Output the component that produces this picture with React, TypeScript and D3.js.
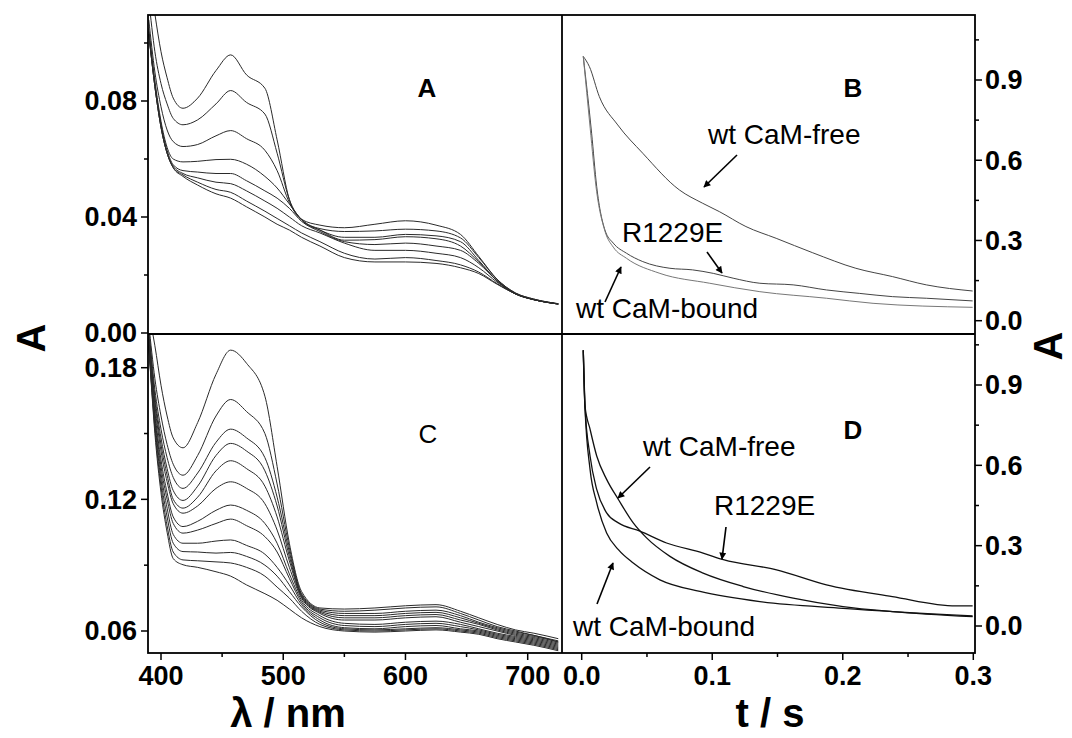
import React from 'react';
import * as d3 from 'd3';

const W = 1072;
const H = 738;
const FONT = '"Liberation Sans", Arial, Helvetica, sans-serif';

// ---------- data ----------
const wavelengths = [390, 395, 400, 405, 410, 418, 430, 445, 457, 470, 485, 495, 505, 515, 530, 550, 575, 600, 625, 645, 660, 675, 690, 705, 725];

const spectraA = [
  [0.125, 0.110, 0.097, 0.088, 0.081, 0.0775, 0.081, 0.0905, 0.0959, 0.089, 0.0844, 0.0666, 0.046, 0.0392, 0.0372, 0.0363, 0.0375, 0.0387, 0.0372, 0.034, 0.0264, 0.0185, 0.0138, 0.0117, 0.0101],
  [0.115, 0.097, 0.086, 0.079, 0.074, 0.0718, 0.0735, 0.079, 0.0836, 0.0795, 0.0755, 0.062, 0.046, 0.0392, 0.036, 0.035, 0.0352, 0.0358, 0.0352, 0.0328, 0.026, 0.0185, 0.0138, 0.0117, 0.0101],
  [0.108, 0.090, 0.078, 0.070, 0.066, 0.0643, 0.065, 0.068, 0.0698, 0.067, 0.063, 0.056, 0.045, 0.039, 0.0355, 0.033, 0.033, 0.034, 0.0335, 0.0315, 0.025, 0.018, 0.0135, 0.0115, 0.010],
  [0.105, 0.087, 0.073, 0.064, 0.060, 0.059, 0.0592, 0.0598, 0.0599, 0.0582, 0.054, 0.050, 0.0445, 0.039, 0.0355, 0.032, 0.0322, 0.0332, 0.0325, 0.030, 0.0245, 0.018, 0.0135, 0.0115, 0.010],
  [0.104, 0.086, 0.072, 0.063, 0.058, 0.056, 0.0555, 0.055, 0.055, 0.0525, 0.049, 0.0465, 0.043, 0.0385, 0.035, 0.0315, 0.0305, 0.031, 0.030, 0.0285, 0.024, 0.018, 0.0135, 0.0115, 0.010],
  [0.103, 0.085, 0.071, 0.062, 0.0575, 0.055, 0.0535, 0.052, 0.0515, 0.049, 0.0455, 0.043, 0.040, 0.037, 0.0345, 0.031, 0.0285, 0.0285, 0.0275, 0.026, 0.0225, 0.0175, 0.0135, 0.0115, 0.010],
  [0.103, 0.085, 0.071, 0.062, 0.057, 0.0545, 0.052, 0.0495, 0.0485, 0.0455, 0.042, 0.0395, 0.037, 0.0345, 0.0315, 0.0275, 0.0255, 0.026, 0.025, 0.0235, 0.021, 0.017, 0.0135, 0.0115, 0.010],
  [0.103, 0.085, 0.071, 0.062, 0.057, 0.054, 0.051, 0.048, 0.0465, 0.0435, 0.040, 0.0375, 0.0355, 0.033, 0.030, 0.026, 0.0245, 0.0245, 0.024, 0.0225, 0.0205, 0.0168, 0.0135, 0.0115, 0.010],
];

const spectraC = [
  [0.205, 0.19, 0.172, 0.158, 0.148, 0.1435, 0.155, 0.177, 0.188, 0.182, 0.167, 0.135, 0.100, 0.078, 0.0705, 0.070, 0.0705, 0.0715, 0.072, 0.069, 0.066, 0.063, 0.0605, 0.059, 0.0565],
  [0.2, 0.175, 0.158, 0.145, 0.136, 0.131, 0.140, 0.158, 0.1655, 0.160, 0.150, 0.127, 0.098, 0.077, 0.070, 0.069, 0.0695, 0.0705, 0.071, 0.068, 0.065, 0.062, 0.060, 0.058, 0.0555],
  [0.198, 0.17, 0.152, 0.139, 0.13, 0.125, 0.132, 0.146, 0.152, 0.148, 0.139, 0.121, 0.096, 0.0765, 0.0695, 0.068, 0.068, 0.069, 0.0695, 0.067, 0.064, 0.0615, 0.0595, 0.058, 0.055],
  [0.196, 0.167, 0.148, 0.134, 0.124, 0.1195, 0.126, 0.140, 0.1455, 0.142, 0.133, 0.117, 0.094, 0.076, 0.069, 0.067, 0.067, 0.068, 0.0685, 0.066, 0.0635, 0.061, 0.059, 0.0575, 0.055],
  [0.195, 0.165, 0.145, 0.131, 0.12, 0.116, 0.121, 0.133, 0.1376, 0.134, 0.126, 0.112, 0.092, 0.0755, 0.0685, 0.066, 0.066, 0.067, 0.0675, 0.065, 0.063, 0.0605, 0.0585, 0.057, 0.0545],
  [0.194, 0.163, 0.142, 0.128, 0.118, 0.1137, 0.117, 0.125, 0.128, 0.125, 0.118, 0.106, 0.089, 0.075, 0.068, 0.065, 0.065, 0.066, 0.0665, 0.064, 0.062, 0.060, 0.058, 0.0565, 0.054],
  [0.193, 0.16, 0.138, 0.123, 0.112, 0.1076, 0.110, 0.115, 0.1174, 0.115, 0.109, 0.100, 0.086, 0.074, 0.067, 0.0635, 0.063, 0.064, 0.0645, 0.063, 0.061, 0.059, 0.0575, 0.056, 0.0535],
  [0.192, 0.158, 0.135, 0.12, 0.109, 0.1046, 0.106, 0.109, 0.111, 0.108, 0.103, 0.096, 0.084, 0.073, 0.066, 0.0625, 0.062, 0.063, 0.0635, 0.062, 0.0605, 0.0585, 0.057, 0.0555, 0.053],
  [0.191, 0.156, 0.132, 0.116, 0.104, 0.100, 0.100, 0.101, 0.1015, 0.099, 0.095, 0.089, 0.081, 0.072, 0.065, 0.0615, 0.061, 0.062, 0.0625, 0.061, 0.060, 0.058, 0.0565, 0.055, 0.0525],
  [0.19, 0.154, 0.129, 0.112, 0.1, 0.0962, 0.096, 0.0955, 0.0958, 0.094, 0.090, 0.085, 0.078, 0.071, 0.064, 0.061, 0.0605, 0.061, 0.0615, 0.0605, 0.0595, 0.0575, 0.056, 0.0545, 0.052],
  [0.19, 0.152, 0.126, 0.108, 0.096, 0.0924, 0.092, 0.0915, 0.091, 0.089, 0.085, 0.080, 0.075, 0.069, 0.063, 0.0605, 0.060, 0.0605, 0.061, 0.060, 0.059, 0.057, 0.0555, 0.054, 0.0515],
  [0.19, 0.15, 0.123, 0.105, 0.093, 0.0902, 0.089, 0.087, 0.085, 0.081, 0.077, 0.074, 0.070, 0.066, 0.062, 0.060, 0.0595, 0.060, 0.0605, 0.0595, 0.0585, 0.0565, 0.055, 0.0535, 0.051],
];

// Panel B kinetics
const tBFree = [0.0012, 0.0059, 0.0135, 0.0276, 0.0468, 0.0748, 0.0927, 0.1054, 0.1258, 0.149, 0.177, 0.210, 0.238, 0.264, 0.2995];
const aBFree = [0.988, 0.950, 0.838, 0.732, 0.626, 0.489, 0.439, 0.408, 0.352, 0.308, 0.254, 0.196, 0.165, 0.134, 0.111];
const tBMut = [0.0012, 0.0076, 0.0115, 0.0178, 0.0242, 0.0344, 0.0468, 0.0676, 0.0850, 0.1008, 0.116, 0.1365, 0.162, 0.1875, 0.213, 0.238, 0.264, 0.2995];
const aBMut = [0.988, 0.701, 0.501, 0.339, 0.290, 0.252, 0.221, 0.196, 0.190, 0.177, 0.159, 0.140, 0.134, 0.115, 0.102, 0.090, 0.084, 0.074];
const tBBound = [0.0012, 0.0065, 0.0110, 0.0178, 0.0242, 0.0344, 0.0599, 0.0981, 0.1365, 0.1875, 0.2232, 0.2995];
const aBBound = [0.988, 0.720, 0.500, 0.335, 0.275, 0.233, 0.177, 0.140, 0.1085, 0.084, 0.065, 0.050];

// Panel D kinetics
const tDFree = [0.0012, 0.0025, 0.0064, 0.0115, 0.0191, 0.0281, 0.0395, 0.0497, 0.0676, 0.093, 0.1237, 0.162, 0.2002, 0.238, 0.2995];
const aDFree = [1.03, 0.822, 0.735, 0.635, 0.5475, 0.4725, 0.385, 0.329, 0.260, 0.1975, 0.1475, 0.104, 0.0725, 0.054, 0.035];
const tDMut = [0.0012, 0.0025, 0.0064, 0.0115, 0.0191, 0.0281, 0.0446, 0.065, 0.093, 0.1085, 0.1493, 0.1875, 0.238, 0.2868, 0.2995];
const aDMut = [1.03, 0.82, 0.635, 0.51, 0.4225, 0.385, 0.354, 0.31, 0.2725, 0.2475, 0.21, 0.154, 0.11, 0.075, 0.075];
const tDBound = [0.0012, 0.0025, 0.0064, 0.0115, 0.0191, 0.0281, 0.0395, 0.0599, 0.0906, 0.1365, 0.2002, 0.2995];
const aDBound = [1.03, 0.82, 0.585, 0.46, 0.3475, 0.285, 0.235, 0.1725, 0.129, 0.091, 0.066, 0.0375];

const ticksWl = [400, 500, 600, 700];
const minorWl = [450, 550, 650];
const ticksT = [0, 0.1, 0.2, 0.3];
const minorT = [0.05, 0.15, 0.25];
const ticksA = [0, 0.04, 0.08];
const minorA = [0.02, 0.06, 0.10];
const ticksC = [0.06, 0.12, 0.18];
const minorC = [0.09, 0.15];
const ticksR = [0, 0.3, 0.6, 0.9];
const minorR = [0.15, 0.45, 0.75, 1.05];

// ---------- layout ----------
const L = 148, M = 562, R = 975, T = 15, MID = 334, BOT = 653;

const xWl = d3.scaleLinear().domain([400, 700]).range([161, 527.7]);
const yA = d3.scaleLinear().domain([0, 0.08]).range([333, 101]);
const yC = d3.scaleLinear().domain([0.06, 0.18]).range([631, 367.7]);
const xT = d3.scaleLinear().domain([0, 0.3]).range([581.7, 973.3]);
const yB = d3.scaleLinear().domain([0, 0.9]).range([320.7, 80]);
const yD = d3.scaleLinear().domain([0, 0.9]).range([626, 385]);

const lineColor = '#2a2a2a';

function specPath(vals: number[], ys: d3.ScaleLinear<number, number>) {
  const line = d3.line<number>()
    .x((_, i) => xWl(wavelengths[i]))
    .y((v) => ys(v))
    .curve(d3.curveMonotoneX);
  return line(vals) || '';
}

function kinPath(ts: number[], as: number[], ys: d3.ScaleLinear<number, number>) {
  const line = d3.line<number>()
    .x((t) => xT(t))
    .y((_, i) => ys(as[i]))
    .curve(d3.curveMonotoneX);
  return line(ts) || '';
}

const tickFont = { fontFamily: FONT, fontWeight: 700, fontSize: 27 } as const;
const annFont = { fontFamily: FONT, fontSize: 28 } as const;

function Arrow({ x1, y1, x2, y2 }: { x1: number; y1: number; x2: number; y2: number }) {
  return <line x1={x1} y1={y1} x2={x2} y2={y2} stroke="#000" strokeWidth={1.6} markerEnd="url(#arrowHead)" />;
}

export default function App() {
  return (
    <svg width={W} height={H} viewBox={`0 0 ${W} ${H}`} style={{ display: 'block', position: 'absolute', left: 0, top: 0, background: '#fff' }}>
      <defs>
        <marker id="arrowHead" viewBox="0 0 10 10" refX="9" refY="5" markerWidth="9" markerHeight="7" markerUnits="userSpaceOnUse" orient="auto">
          <path d="M0,0 L10,5 L0,10 z" fill="#000" />
        </marker>
        <clipPath id="clipA"><rect x={L} y={T} width={M - L} height={MID - T} /></clipPath>
        <clipPath id="clipC"><rect x={L} y={MID} width={M - L} height={BOT - MID} /></clipPath>
        <clipPath id="clipB"><rect x={M} y={T} width={R - M} height={MID - T} /></clipPath>
        <clipPath id="clipD"><rect x={M} y={MID} width={R - M} height={BOT - MID} /></clipPath>
      </defs>
      <rect x={0} y={0} width={W} height={H} fill="#fff" />

      {/* spectra A */}
      <g clipPath="url(#clipA)" fill="none" stroke={lineColor} strokeWidth={1}>
        {spectraA.map((s, i) => <path key={i} d={specPath(s, yA)} />)}
      </g>
      {/* spectra C */}
      <g clipPath="url(#clipC)" fill="none" stroke={lineColor} strokeWidth={1}>
        {spectraC.map((s, i) => <path key={i} d={specPath(s, yC)} />)}
      </g>
      {/* kinetics B */}
      <g clipPath="url(#clipB)" fill="none" stroke="#444" strokeWidth={1}>
        <path d={kinPath(tBFree, aBFree, yB)} />
        <path d={kinPath(tBMut, aBMut, yB)} />
        <path d={kinPath(tBBound, aBBound, yB)} stroke="#777" />
      </g>
      {/* kinetics D */}
      <g clipPath="url(#clipD)" fill="none" stroke="#111" strokeWidth={1.3}>
        <path d={kinPath(tDFree, aDFree, yD)} />
        <path d={kinPath(tDMut, aDMut, yD)} />
        <path d={kinPath(tDBound, aDBound, yD)} />
      </g>

      {/* frame */}
      <g stroke="#000" strokeWidth={1.8} fill="none">
        <rect x={L} y={T} width={R - L} height={BOT - T} />
        <line x1={M} y1={T} x2={M} y2={BOT} />
        <line x1={L} y1={MID} x2={R} y2={MID} />
      </g>

      {/* ticks */}
      <g stroke="#000" strokeWidth={1.5}>
        {ticksA.map((v) => <line key={'ta' + v} x1={L - 7} x2={L} y1={yA(v)} y2={yA(v)} />)}
        {minorA.map((v) => <line key={'ma' + v} x1={L - 4} x2={L} y1={yA(v)} y2={yA(v)} />)}
        {ticksC.map((v) => <line key={'tc' + v} x1={L - 7} x2={L} y1={yC(v)} y2={yC(v)} />)}
        {minorC.map((v) => <line key={'mc' + v} x1={L - 4} x2={L} y1={yC(v)} y2={yC(v)} />)}
        {ticksR.map((v) => <line key={'tb' + v} x1={R} x2={R + 7} y1={yB(v)} y2={yB(v)} />)}
        {minorR.filter((v) => yB(v) > T).map((v) => <line key={'mb' + v} x1={R} x2={R + 4} y1={yB(v)} y2={yB(v)} />)}
        {ticksR.map((v) => <line key={'td' + v} x1={R} x2={R + 7} y1={yD(v)} y2={yD(v)} />)}
        {minorR.filter((v) => yD(v) > MID).map((v) => <line key={'md' + v} x1={R} x2={R + 4} y1={yD(v)} y2={yD(v)} />)}
        {ticksWl.map((v) => <line key={'tw' + v} x1={xWl(v)} x2={xWl(v)} y1={BOT} y2={BOT + 7} />)}
        {minorWl.map((v) => <line key={'mw' + v} x1={xWl(v)} x2={xWl(v)} y1={BOT} y2={BOT + 4} />)}
        {ticksT.map((v) => <line key={'tt' + v} x1={xT(v)} x2={xT(v)} y1={BOT} y2={BOT + 7} />)}
        {minorT.map((v) => <line key={'mt' + v} x1={xT(v)} x2={xT(v)} y1={BOT} y2={BOT + 4} />)}
      </g>

      {/* tick labels */}
      <g style={tickFont} fill="#000">
        {ticksA.map((v) => <text key={'la' + v} x={137} y={yA(v)} dy="0.35em" textAnchor="end">{v.toFixed(2)}</text>)}
        {ticksC.map((v) => <text key={'lc' + v} x={137} y={yC(v)} dy="0.35em" textAnchor="end">{v.toFixed(2)}</text>)}
        {ticksR.map((v) => <text key={'lb' + v} x={985} y={yB(v)} dy="0.35em" textAnchor="start">{v.toFixed(1)}</text>)}
        {ticksR.map((v) => <text key={'ld' + v} x={985} y={yD(v)} dy="0.35em" textAnchor="start">{v.toFixed(1)}</text>)}
        {ticksWl.map((v) => <text key={'lw' + v} x={xWl(v)} y={685} textAnchor="middle">{String(v)}</text>)}
        {ticksT.map((v) => <text key={'lt' + v} x={xT(v)} y={685} textAnchor="middle">{v.toFixed(1)}</text>)}
      </g>

      {/* axis titles */}
      <g style={{ fontFamily: FONT, fontWeight: 700, fontSize: 40 }} fill="#000">
        <text x={288} y={727} textAnchor="middle">λ / nm</text>
        <text x={770} y={727} textAnchor="middle">t / s</text>
      </g>
      <g style={{ fontFamily: FONT, fontWeight: 700, fontSize: 40 }} fill="#000">
        <text transform="translate(45,338) rotate(-90)" textAnchor="middle">A</text>
        <text transform="translate(1062,346) rotate(-90)" textAnchor="middle">A</text>
      </g>

      {/* panel letters */}
      <g style={{ fontFamily: FONT, fontSize: 26 }} fill="#000">
        <text x={427} y={97} textAnchor="middle" fontWeight={700}>A</text>
        <text x={853} y={97} textAnchor="middle" fontWeight={700}>B</text>
        <text x={428} y={443} textAnchor="middle">C</text>
        <text x={853} y={439} textAnchor="middle" fontWeight={700}>D</text>
      </g>

      {/* annotations */}
      <g style={annFont} fill="#000">
        <text x={708} y={144}>wt CaM-free</text>
        <text x={622} y={242}>R1229E</text>
        <text x={576} y={318}>wt CaM-bound</text>
        <text x={643} y={456}>wt CaM-free</text>
        <text x={714} y={515}>R1229E</text>
        <text x={573} y={636}>wt CaM-bound</text>
      </g>
      <Arrow x1={737} y1={155} x2={704} y2={187} />
      <Arrow x1={707} y1={252} x2={722} y2={273} />
      <Arrow x1={605} y1={302} x2={621} y2={267} />
      <Arrow x1={650} y1={467} x2={618} y2={498} />
      <Arrow x1={726} y1={527} x2={722} y2={559} />
      <Arrow x1={597} y1={604} x2={613} y2={563} />
    </svg>
  );
}
